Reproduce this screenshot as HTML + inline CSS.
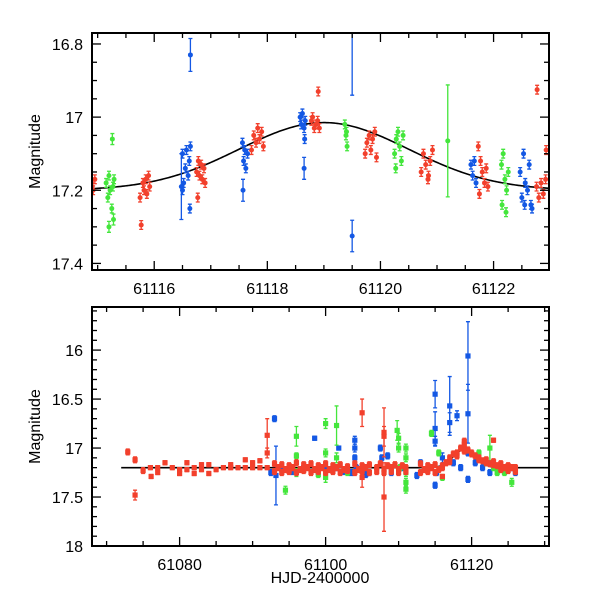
<!DOCTYPE html>
<html><head><meta charset="utf-8"><style>
html,body{margin:0;padding:0;background:#fff;}
svg{display:block;font-family:"Liberation Sans",sans-serif;}
</style></head><body>
<svg id="chart" width="600" height="600" viewBox="0 0 600 600" xmlns="http://www.w3.org/2000/svg"></svg>
<script>
// ---------- Top panel data ----------
const topRedT=[61114.9,61114.92,61114.95,61115.75,61115.8,61115.82,61115.85,61115.87,61115.9,61115.92,61115.77,61116.75,61116.78,61116.8,61116.83,61116.85,61116.88,61116.9,61116.77,61117.72,61117.76,61117.8,61117.83,61117.86,61117.9,61117.93,61118.78,61118.8,61118.83,61118.86,61118.89,61118.92,61118.9,61119.73,61119.76,61119.8,61119.83,61119.86,61119.9,61119.93,61120.72,61120.76,61120.8,61120.84,61120.88,61120.92,61120.85,61121.73,61121.77,61121.8,61121.84,61121.87,61121.9,61121.75,61122.76,61122.8,61122.84,61122.88,61122.92,61122.77,61122.93];
const topRedM=[17.19,17.2,17.17,17.22,17.18,17.2,17.17,17.21,17.16,17.19,17.295,17.15,17.12,17.16,17.13,17.17,17.14,17.18,17.22,17.09,17.05,17.07,17.03,17.06,17.04,17.08,17.01,17.0,17.03,17.02,17.01,17.03,16.93,17.1,17.07,17.05,17.09,17.06,17.04,17.11,17.15,17.1,17.13,17.17,17.12,17.09,17.16,17.08,17.12,17.15,17.18,17.14,17.19,17.21,17.19,17.22,17.18,17.21,17.17,16.925,17.09];
const topBlueT=[61116.5,61116.52,61116.55,61116.57,61116.6,61116.62,61116.64,61116.5,61116.63,61116.64,61116.48,61117.56,61117.58,61117.6,61117.62,61117.65,61117.57,61118.58,61118.6,61118.62,61118.65,61118.67,61118.66,61118.65,61119.5,61119.5,61121.6,61121.63,61121.66,61121.69,61122.47,61122.5,61122.53,61122.56,61122.6,61122.63,61122.66,61122.68,61122.55];
const topBlueM=[17.1,17.18,17.14,17.09,17.16,17.12,17.08,17.2,17.25,16.83,17.19,17.07,17.12,17.09,17.14,17.1,17.2,17.0,17.02,16.99,17.03,17.01,17.06,17.14,17.325,16.75,17.13,17.16,17.12,17.18,17.15,17.22,17.1,17.18,17.2,17.13,17.24,17.25,17.24];
const topBlueE=[0.012,0.012,0.012,0.012,0.012,0.012,0.012,0.012,0.012,0.045,0.09,0.012,0.012,0.012,0.012,0.012,0.03,0.012,0.012,0.012,0.012,0.012,0.012,0.03,0.043,0.19,0.012,0.012,0.012,0.012,0.012,0.012,0.012,0.012,0.012,0.012,0.012,0.012,0.012];
const topGreenT=[61115.15,61115.18,61115.2,61115.22,61115.25,61115.27,61115.29,61115.2,61115.26,61115.28,61119.37,61119.39,61119.41,61119.4,61120.25,61120.28,61120.31,61120.34,61120.37,61120.4,61120.27,61121.19,61122.14,61122.17,61122.2,61122.23,61122.26,61122.15,61122.22];
const topGreenM=[17.18,17.22,17.16,17.2,17.25,17.19,17.17,17.3,17.06,17.28,17.02,17.05,17.08,17.04,17.1,17.06,17.04,17.08,17.12,17.05,17.14,17.065,17.13,17.1,17.17,17.2,17.15,17.24,17.26];
const topGreenE=[0.012,0.012,0.012,0.012,0.012,0.012,0.012,0.015,0.015,0.015,0.012,0.012,0.012,0.012,0.012,0.012,0.012,0.012,0.012,0.012,0.012,0.153,0.012,0.012,0.012,0.012,0.012,0.012,0.012];
const topXTicks=[61116,61118,61120,61122];
const topYTicks=[16.8,17,17.2,17.4];
// ---------- Bottom panel data ----------
const botRedT=[61072.9,61073.9,61073.9,61075,61076,61076.1,61077,61077,61078,61079,61080,61080,61081,61081,61082,61082,61083,61083,61084,61084,61085,61086,61087,61087,61088,61089,61089,61090,61090,61091,61091,61092,61092,61092,
61093,61093.5,61094,61094.5,61095,61095.5,61096,61096.5,61097,61097.5,61098,61098.5,61099,61099.5,61100,61100.5,61101,61101.5,61102,61102.5,61103,61104,61104.5,61105,61105.5,61106,61107,61107.5,61108,61108.5,61109,61109.5,61110,61110.5,61111,61113,61113.5,61114,61114.5,61115,61115.5,61116,61116.5,61117,61117.5,61118,61118.5,61119,61119.5,61120,61120.5,61121,61121.5,61122,61122.5,61123,61123.5,61124,61124.5,61125,61125.5,61126,
61093,61094,61095,61096,61097,61098,61099,61100,61101,61102,61103,61104,61105,61106,61107,61108,61109,61110,61111,61113,61114,61115,61116,61117,61118,61119,61120,61121,61122,61123,61124,61125,61126,
61105,61105,61108,61108,61108,61116,61119,61123];
const botRedM=[17.04,17.12,17.48,17.23,17.2,17.29,17.2,17.25,17.15,17.2,17.22,17.26,17.15,17.22,17.2,17.26,17.17,17.22,17.17,17.26,17.22,17.2,17.17,17.2,17.2,17.12,17.2,17.15,17.2,17.13,17.2,16.87,17.05,17.2,
17.16,17.2,17.17,17.22,17.18,17.2,17.15,17.22,17.17,17.2,17.16,17.22,17.18,17.2,17.16,17.22,17.18,17.2,17.17,17.22,17.19,17.16,17.22,17.18,17.2,17.17,17.2,17.16,17.22,17.18,17.2,17.17,17.22,17.18,17.2,17.16,17.22,17.18,17.2,17.17,17.22,17.18,17.15,17.1,17.06,17.05,17.0,16.96,17.02,17.05,17.08,17.1,17.13,17.12,17.16,17.14,17.18,17.16,17.2,17.18,17.2,17.2,
17.24,17.25,17.24,17.25,17.23,17.25,17.24,17.25,17.24,17.25,17.23,17.25,17.24,17.25,17.24,17.25,17.24,17.25,17.24,17.25,17.24,17.25,17.2,17.14,17.08,17.03,17.06,17.12,17.15,17.17,17.22,17.23,17.24,
16.64,17.3,16.84,17.5,16.88,17.29,16.93,16.92];
const botRedE=[0.03,0.03,0.05,0.03,0.02,0.02,0.02,0.02,0.02,0.02,0.02,0.02,0.02,0.02,0.02,0.02,0.02,0.02,0.02,0.02,0.02,0.02,0.02,0.02,0.02,0.02,0.02,0.02,0.02,0.02,0.02,0.17,0.05,0.02,
0.03,0.03,0.03,0.03,0.03,0.03,0.03,0.03,0.03,0.03,0.03,0.03,0.03,0.03,0.03,0.03,0.03,0.03,0.03,0.03,0.03,0.03,0.03,0.03,0.03,0.03,0.03,0.03,0.03,0.03,0.03,0.03,0.03,0.03,0.03,0.03,0.03,0.03,0.03,0.03,0.03,0.03,0.03,0.03,0.03,0.03,0.03,0.03,0.03,0.03,0.03,0.03,0.03,0.03,0.03,0.03,0.03,0.03,0.03,0.03,0.03,0.03,
0.03,0.03,0.03,0.03,0.03,0.03,0.03,0.03,0.03,0.03,0.03,0.03,0.03,0.03,0.03,0.03,0.03,0.03,0.03,0.03,0.03,0.03,0.03,0.03,0.03,0.03,0.03,0.03,0.03,0.03,0.03,0.03,0.03,
0.14,0.1,0.25,0.35,0.1,0.02,0.03,0.02];
const botBlueT=[61093,61093.2,61092.5,61094,61095.5,61097,61098.5,61099,61100,61101.5,61101.8,61102.5,61103.5,61104,61104,61104,61104.2,61105.5,61106,61107.5,61107.7,61108.5,61109,61110.5,61112.5,61113,61114,61115,61115,61115,61115,61115.2,61116,61117,61117,61117.5,61118,61118.5,61119.5,61119.5,61119.5,61119.5,61120.5,61121.5,61122.5,61123.5,61124.5,61125.5,61126];
const botBlueM=[16.7,17.28,17.25,17.22,17.24,17.2,16.9,17.25,17.22,17.2,17.0,17.24,17.25,16.92,17.0,17.1,17.2,17.27,17.25,17.0,17.1,17.08,17.25,17.2,17.28,17.15,17.22,16.45,16.8,16.93,17.38,17.25,17.1,16.57,16.74,17.15,16.67,17.2,16.06,16.65,17.32,17.05,17.15,17.2,17.25,17.2,17.22,17.2,17.25];
const botBlueE=[0.03,0.3,0.03,0.03,0.03,0.03,0.02,0.03,0.03,0.03,0.02,0.03,0.03,0.04,0.04,0.03,0.03,0.03,0.03,0.03,0.03,0.03,0.03,0.03,0.03,0.03,0.03,0.14,0.17,0.05,0.03,0.03,0.05,0.3,0.1,0.03,0.05,0.03,0.35,0.3,0.03,0.03,0.03,0.03,0.03,0.03,0.03,0.03,0.03];
const botGreenT=[61094.5,61096,61096,61096,61099,61100,61100,61100,61101.5,61101.5,61103,61109.8,61110,61110,61110.2,61111,61111,61111,61111,61111,61114.5,61115.5,61116,61121,61122,61122.5,61123,61123.5,61124,61124.5,61125.5];
const botGreenM=[17.43,16.88,17.08,17.25,17.27,16.75,17.05,17.3,16.77,17.1,17.25,16.82,16.9,17.0,17.2,17.0,17.1,17.25,17.35,17.42,16.85,17.05,17.3,17.05,17.15,17.0,17.2,17.25,17.22,17.25,17.35];
const botGreenE=[0.04,0.1,0.03,0.04,0.03,0.05,0.04,0.05,0.2,0.05,0.03,0.1,0.05,0.04,0.03,0.04,0.04,0.04,0.04,0.04,0.03,0.03,0.03,0.03,0.03,0.13,0.03,0.03,0.03,0.03,0.04];
const botXTicks=[61080,61100,61120];
const botYTicks=[16,16.5,17,17.5,18];
const modelBase=[17.2];
const modelAmp=[0.185];
const modelPeak=[61119.0];
const modelWidth=[1.5];

const svg=document.getElementById('chart');
const NS='http://www.w3.org/2000/svg';
function el(tag,attrs,parent){const e=document.createElementNS(NS,tag);for(const k in attrs)e.setAttribute(k,attrs[k]);(parent||svg).appendChild(e);return e;}
const RED='#f2402c',BLUE='#1458e4',GREEN='#44e63c';

function model(t){return modelBase[0]-modelAmp[0]*Math.exp(-Math.pow(t-modelPeak[0],2)/(2*modelWidth[0]*modelWidth[0]));}

function panel(cfg){
  const {name,x0,x1,y0,y1,tmin,tmax,mmin,mmax}=cfg;
  const sx=t=>x0+(t-tmin)/(tmax-tmin)*(x1-x0);
  const sy=m=>y0+(m-mmin)/(mmax-mmin)*(y1-y0);
  const g=el('g',{});
  
  
  const cid='clip-'+name;
  const cp=el('clipPath',{id:cid},g);el('rect',{x:x0,y:y0,width:x1-x0,height:y1-y0},cp);
  const plot=el('g',{'clip-path':'url(#'+cid+')'},g);
  let d='';const ta=Math.max(tmin,cfg.lineStart||tmin);
  for(let i=0;i<=300;i++){const t=ta+(tmax-ta)*i/300;d+=(i?'L':'M')+sx(t).toFixed(2)+','+sy(model(t)).toFixed(2);}
  const ml=el('path',{d:d,fill:'none',stroke:'#000','stroke-width':1.6},plot);
  
  
  cfg.series.forEach(s=>{
    const sg=el('g',{fill:s.color,stroke:s.color},plot);
    
    
    for(let i=0;i<s.T.length;i++){
      const x=sx(s.T[i]),y=sy(s.M[i]);const e=s.E?s.E[i]:s.e;
      const ya=sy(s.M[i]-e),yb=sy(s.M[i]+e);
      el('path',{d:`M${x},${ya}V${yb}M${x-2},${ya}H${x+2}M${x-2},${yb}H${x+2}`,fill:'none','stroke-width':1.3},sg);
      const p=s.square?el('rect',{x:x-2.6,y:y-2.6,width:5.2,height:5.2,stroke:'none'},sg):el('circle',{cx:x,cy:y,r:2.5,stroke:'none'},sg);
      
      
    }
  });
  const fr=el('rect',{x:x0,y:y0,width:x1-x0,height:y1-y0,fill:'none',stroke:'#000','stroke-width':2},g);
  
  
  const tk=el('g',{stroke:'#000','stroke-width':1.3},g);
  for(let t=Math.ceil(tmin/cfg.xminor)*cfg.xminor;t<=tmax;t+=cfg.xminor){
    const x=sx(t);const major=Math.abs(t/cfg.xmajor-Math.round(t/cfg.xmajor))<1e-6;const L=major?9:5;
    el('line',{x1:x,y1:y1,x2:x,y2:y1-L},tk);el('line',{x1:x,y1:y0,x2:x,y2:y0+L},tk);
  }
  for(let k=Math.ceil(mmin/cfg.yminor-1e-6);k*cfg.yminor<=mmax+1e-9;k++){
    const m=k*cfg.yminor;const y=sy(m);const major=Math.abs(m/cfg.ymajor-Math.round(m/cfg.ymajor))<1e-6;const L=major?9:5;
    el('line',{x1:x0,y1:y,x2:x0+L,y2:y},tk);el('line',{x1:x1,y1:y,x2:x1-L,y2:y},tk);
  }
  cfg.xticks.forEach(t=>{const tx=el('text',{x:sx(t),y:y1+24,'text-anchor':'middle','font-size':16},g);tx.textContent=t;
    });
  cfg.yticks.forEach(m=>{const tx=el('text',{x:x0-9,y:sy(m)+6,'text-anchor':'end','font-size':16},g);tx.textContent=m;
    });
  const yl=el('text',{x:0,y:0,transform:`translate(40,${(y0+y1)/2}) rotate(-90)`,'text-anchor':'middle','font-size':16},g);
  yl.textContent='Magnitude';
  
  
}

panel({name:'zoomed-light-curve-panel',x0:92,x1:549,y0:33,y1:270,tmin:61114.9,tmax:61122.98,mmin:16.77,mmax:17.418,
  xminor:0.5,xmajor:2,yminor:0.05,ymajor:0.2,xticks:topXTicks,yticks:topYTicks,
  series:[{name:'red-series',T:topRedT,M:topRedM,e:0.012,color:RED},
          {name:'green-series',T:topGreenT,M:topGreenM,E:topGreenE,color:GREEN},
          {name:'blue-series',T:topBlueT,M:topBlueM,E:topBlueE,color:BLUE}]});
panel({name:'full-light-curve-panel',x0:92,x1:549,y0:307,y1:546,tmin:61068,tmax:61130.6,mmin:15.56,mmax:18,lineStart:61072,
  xminor:5,xmajor:20,yminor:0.1,ymajor:0.5,xticks:botXTicks,yticks:botYTicks,
  series:[{name:'blue-series',T:botBlueT,M:botBlueM,E:botBlueE,color:BLUE,square:true},
          {name:'green-series',T:botGreenT,M:botGreenM,E:botGreenE,color:GREEN,square:true},
          {name:'red-series',T:botRedT,M:botRedM,E:botRedE,color:RED,square:true}]});
const xl=el('text',{x:320,y:583,'text-anchor':'middle','font-size':16});
xl.textContent='HJD-2400000';


</script>
</body></html>
